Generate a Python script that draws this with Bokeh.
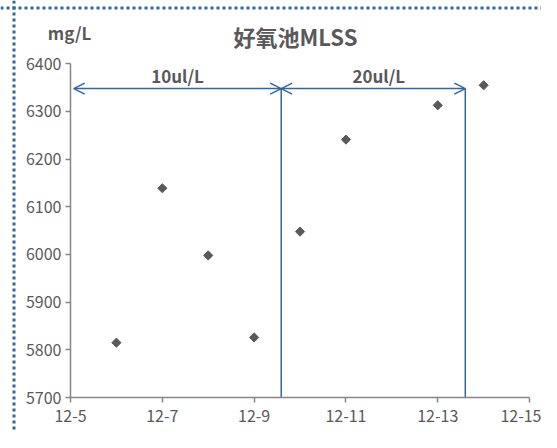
import math
from bokeh.plotting import figure
from bokeh.models import Range1d, Arrow, OpenHead, Label, Span, FixedTicker
from bokeh.embed import file_html
from bokeh.resources import INLINE

# ---- data ----
dates = ["12-6", "12-7", "12-8", "12-9", "12-10", "12-11", "12-13", "12-14"]
mlss = [5815, 6139, 5998, 5826, 6048, 6241, 6313, 6355]

tick_days = [5, 7, 9, 11, 13, 15]
tick_labels = ["12-5", "12-7", "12-9", "12-11", "12-13", "12-15"]
y_ticks = [5700, 5800, 5900, 6000, 6100, 6200, 6300, 6400]

phase_labels = ["10ul/L", "20ul/L"]
phase_bounds = [5.07, 9.59, 13.6]   # day positions of phase arrows / dividers
phase_level = 6348                  # level of the arrows

title_text = "好氧池MLSS"
unit_text = "mg/L"

days = [int(d.split("-")[1]) for d in dates]

FONT = "Noto Sans CJK SC"
GREY = "#595959"
AXIS = "#868686"
BLUE = "#2E66A6"

# frame covers the whole canvas; axes are pinned at the data origin
p = figure(width=541, height=432, output_backend="svg", toolbar_location=None,
           x_range=Range1d(3.475, 15.26), y_range=Range1d(5626.6, 6532.8),
           min_border=0, background_fill_color="white", border_fill_color="white")
p.outline_line_color = None
p.grid.visible = False

for ax in (p.xaxis[0], p.yaxis[0]):
    ax.axis_line_color = AXIS
    ax.axis_line_width = 1.5
    ax.major_tick_line_color = AXIS
    ax.major_tick_line_width = 1.5
    ax.major_tick_out = 5
    ax.major_tick_in = 0
    ax.minor_tick_line_color = None
    ax.major_label_text_color = GREY
    ax.major_label_text_font = FONT
    ax.major_label_text_font_size = "16px"

p.xaxis.ticker = FixedTicker(ticks=tick_days)
p.xaxis.major_label_overrides = {d: l for d, l in zip(tick_days, tick_labels)}
p.xaxis.major_label_standoff = 7
p.xaxis.fixed_location = y_ticks[0]
p.xaxis.bounds = (tick_days[0], tick_days[-1])
p.yaxis.ticker = FixedTicker(ticks=y_ticks)
p.yaxis.major_label_standoff = 4
p.yaxis.fixed_location = tick_days[0]
p.yaxis.bounds = (y_ticks[0], y_ticks[-1])

# dotted outer border (top and left edges; the rest runs off the page)
p.add_layout(Span(location=13.5, location_units="canvas", dimension="height",
                  line_color=BLUE, line_width=3, line_dash="3 3"))
p.add_layout(Span(location=7.5, location_units="canvas", dimension="width",
                  line_color=BLUE, line_width=3, line_dash="3 3"))

# phase divider lines
p.segment(x0=phase_bounds[1:], y0=[phase_level] * 2, x1=phase_bounds[1:], y1=[y_ticks[0]] * 2,
          line_color=BLUE, line_width=1.5)

# phase arrows and labels
for i, lab in enumerate(phase_labels):
    a, b = phase_bounds[i], phase_bounds[i + 1]
    p.add_layout(Arrow(x_start=a, y_start=phase_level, x_end=b, y_end=phase_level,
                       line_color=BLUE, line_width=1.5,
                       start=OpenHead(size=11, line_color=BLUE, line_width=1.5),
                       end=OpenHead(size=11, line_color=BLUE, line_width=1.5)))
    p.add_layout(Label(x=(a + b) / 2 + (0.12 if i else 0), y=phase_level + 27, text=lab,
                       text_align="center", text_baseline="middle",
                       text_color=GREY, text_font=FONT, text_font_size="17px",
                       text_font_style="bold"))

# data points
p.scatter(days, mlss, marker="square", angle=math.pi / 4, size=6.5, color=GREY)

# title and unit
p.add_layout(Label(x=9.9, y=6459, text=title_text, text_align="center", text_baseline="middle",
                   text_color=GREY, text_font=FONT, text_font_size="22px", text_font_style="bold"))
p.add_layout(Label(x=4.98, y=6466, text=unit_text, text_align="center", text_baseline="middle",
                   text_color=GREY, text_font=FONT, text_font_size="17px", text_font_style="bold"))

open("out.html", "w").write(file_html(p, INLINE))
